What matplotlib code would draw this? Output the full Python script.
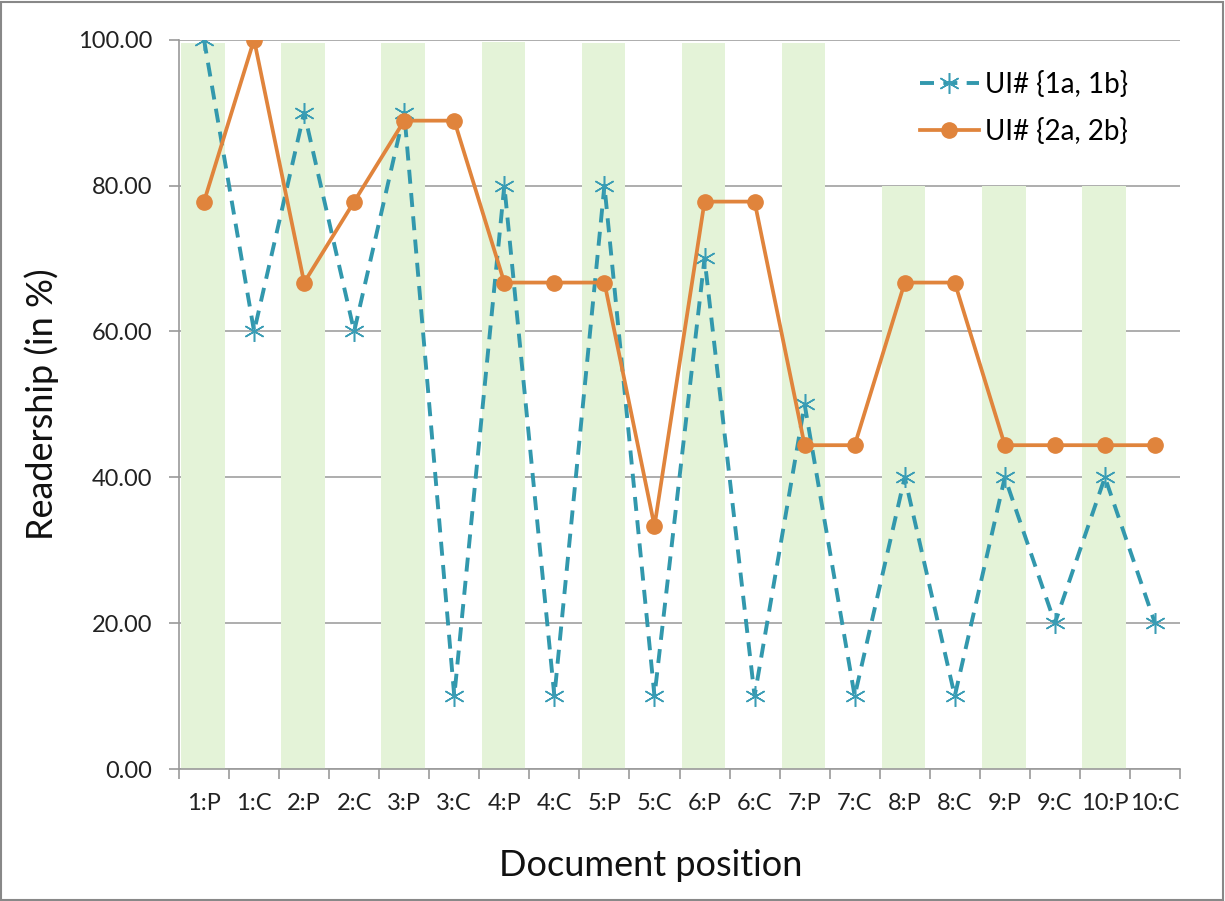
import matplotlib
matplotlib.use("Agg")
import matplotlib.pyplot as plt
import numpy as np
from matplotlib.patches import Rectangle

categories = ["1:P", "1:C", "2:P", "2:C", "3:P", "3:C", "4:P", "4:C", "5:P", "5:C",
              "6:P", "6:C", "7:P", "7:C", "8:P", "8:C", "9:P", "9:C", "10:P", "10:C"]
ui1 = [100, 60, 90, 60, 90, 10, 80, 10, 80, 10, 70, 10, 50, 10, 40, 10, 40, 20, 40, 20]
ui2 = [77.8, 100, 66.7, 77.8, 88.9, 88.9, 66.7, 66.7, 66.7, 33.3,
       77.8, 77.8, 44.4, 44.4, 66.7, 66.7, 44.4, 44.4, 44.4, 44.4]
p_bars = [99.5, 0, 99.5, 0, 99.5, 0, 99.7, 0, 99.5, 0,
          99.5, 0, 99.5, 0, 80, 0, 80, 0, 80, 0]
yticks = [0, 20, 40, 60, 80, 100]

plt.rcParams['font.family'] = ['Lato', 'DejaVu Sans']

fig = plt.figure(figsize=(12.25, 9.01), dpi=100)
ax = fig.add_axes([179/1225, 1-769/901, (1180-179)/1225, (769-39.7)/901])

x = np.arange(len(categories))
ax.bar(x - 0.02, p_bars, width=0.87, color='#E4F3D8', zorder=1)
ax.plot(x, ui1, color='#3298AD', linestyle=(0, (3.6, 2.4)), linewidth=2.8,
        marker=(6, 2, 0), markersize=15, markeredgewidth=1.1, markeredgecolor='#3A9DB5',
        label='UI# {1a, 1b}', zorder=3)
ax.plot(x, ui2, color='#E0843C', linewidth=2.7, marker='o', markersize=11,
        markerfacecolor='#E0843C', markeredgecolor='#E0843C',
        label='UI# {2a, 2b}', zorder=4)

ax.set_xlim(-0.5, len(categories) - 0.5)
ax.set_ylim(0, 100)
ax.set_yticks(yticks)
ax.set_yticklabels([f"{v:.2f}" for v in yticks])
ax.set_xticks(x)
ax.set_xticklabels(categories)
ax.set_xticks(np.arange(len(categories) + 1) - 0.5, minor=True)
ax.tick_params(axis='x', which='major', length=0, pad=17, labelsize=17, colors='#222222')
ax.tick_params(axis='x', which='minor', length=7, width=1.2, color='#9a9a9a', direction='out')
ax.tick_params(axis='y', length=7, width=1.2, color='#9a9a9a', labelsize=17, pad=12,
               labelcolor='#222222')

ax.yaxis.grid(True, color='#a0a0a0', linewidth=1.2)
ax.set_axisbelow(True)
for s in ['top', 'right']:
    ax.spines[s].set_visible(False)
for s in ['left', 'bottom']:
    ax.spines[s].set_color('#9a9a9a')
    ax.spines[s].set_linewidth(1.2)

ax.set_ylabel('Readership (in %)', fontsize=26, labelpad=14, color='#111111')
ax.set_xlabel('Document position', fontsize=26, color='#111111')
ax.xaxis.set_label_coords((651 - 179) / 1001, -(866 - 769) / 729.3)
ax.xaxis.label.set_va('center')

leg = ax.legend(loc='upper right', bbox_to_anchor=(0.948, 0.957), frameon=False,
                fontsize=20, handlelength=2.15, labelspacing=0.7, handletextpad=0.2,
                borderpad=0, borderaxespad=0)

fig.patches.append(Rectangle((0.001, 0.001), 0.997, 0.997, transform=fig.transFigure,
                             fill=False, edgecolor='#888888', linewidth=1.5))

fig.savefig('out.png', dpi=100)
